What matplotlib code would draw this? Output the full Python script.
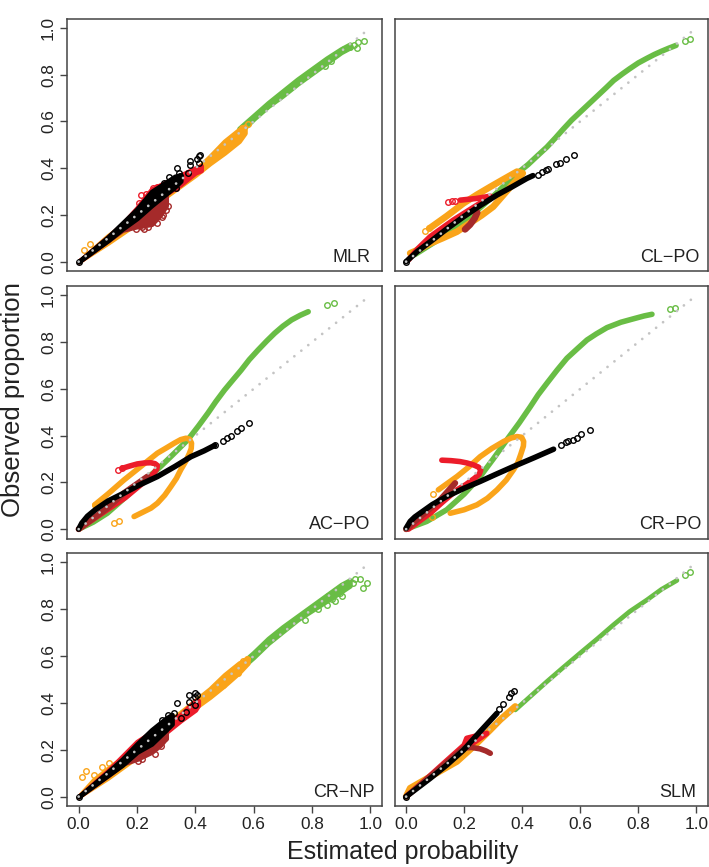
"""
Calibration panels: observed proportion vs estimated probability for six models.
Points read off the published figure by eye.
"""

import matplotlib

matplotlib.use("Agg")
import matplotlib.pyplot as plt

W, H = 709, 867

GREEN = "#69BD45"
ORANGE = "#FAA41A"
RED = "#EC1C2A"
BROWN = "#A52A2A"
BLACK = "#000000"
GREY = "#C4C4C4"
BOX = "#444444"
INK = "#222222"

TICKS = [0.0, 0.2, 0.4, 0.6, 0.8, 1.0]
TICK_LABELS = ["0.0", "0.2", "0.4", "0.6", "0.8", "1.0"]

# --- MLR: noisy bands (x, low, high) plus stray points
MLR_GREEN_BAND = ([0.55, 0.6, 0.65, 0.7, 0.75, 0.8, 0.85, 0.9, 0.93],
                  [0.55, 0.61, 0.665, 0.71, 0.76, 0.805, 0.85, 0.895, 0.915],
                  [0.57, 0.625, 0.68, 0.73, 0.78, 0.825, 0.87, 0.91, 0.93])
MLR_ORANGE_BAND = ([0.0, 0.1, 0.2, 0.3, 0.4, 0.45, 0.5, 0.55, 0.57],
                   [0.0, 0.08, 0.165, 0.28, 0.37, 0.42, 0.465, 0.515, 0.55],
                   [0.0, 0.11, 0.2, 0.31, 0.39, 0.45, 0.515, 0.565, 0.58])
MLR_RED_BAND = ([0.0, 0.1, 0.15, 0.2, 0.25, 0.3, 0.35, 0.4, 0.42],
                [0.0, 0.09, 0.14, 0.19, 0.24, 0.29, 0.33, 0.38, 0.39],
                [0.0, 0.105, 0.16, 0.23, 0.31, 0.34, 0.37, 0.4, 0.41])
MLR_BROWN_BAND = ([0.0, 0.1, 0.15, 0.2, 0.25, 0.28, 0.3],
                  [0.0, 0.09, 0.135, 0.15, 0.16, 0.2, 0.24],
                  [0.0, 0.1, 0.15, 0.19, 0.25, 0.27, 0.28])
MLR_BLACK_BAND = ([0.0, 0.1, 0.15, 0.2, 0.25, 0.3, 0.33, 0.35],
                  [0.0, 0.09, 0.14, 0.185, 0.24, 0.29, 0.32, 0.345],
                  [0.0, 0.105, 0.165, 0.225, 0.3, 0.34, 0.365, 0.37])
MLR_GREEN_PTS = [(0.98, 0.943), (0.957, 0.94), (0.955, 0.913), (0.93, 0.92), (0.91, 0.91),
                 (0.865, 0.86), (0.845, 0.835), (0.945, 0.925)]
MLR_ORANGE_PTS = [(0.017, 0.05), (0.04, 0.077), (0.55, 0.535), (0.58, 0.59), (0.56, 0.57),
                  (0.54, 0.52), (0.5, 0.49), (0.52, 0.5)]
MLR_RED_PTS = [(0.213, 0.285), (0.23, 0.29), (0.255, 0.313), (0.27, 0.32), (0.207, 0.25),
               (0.375, 0.378), (0.333, 0.313), (0.29, 0.315)]
MLR_BROWN_PTS = [(0.197, 0.14), (0.223, 0.138), (0.237, 0.147), (0.27, 0.164), (0.286, 0.19),
                 (0.305, 0.238), (0.299, 0.221), (0.218, 0.15), (0.25, 0.17), (0.29, 0.2)]
MLR_BLACK_PTS = [(0.0, 0.0), (0.414, 0.454), (0.417, 0.456), (0.405, 0.44), (0.382, 0.432),
                 (0.382, 0.413), (0.338, 0.4), (0.414, 0.42), (0.293, 0.335), (0.31, 0.363),
                 (0.345, 0.378), (0.374, 0.378), (0.333, 0.313), (0.325, 0.349), (0.348, 0.366)]

# --- CL-PO: smooth curves plus the sparse tail points
CLPO_GREEN = [(0.03, 0.03), (0.1, 0.085), (0.2, 0.17), (0.25, 0.225), (0.3, 0.28), (0.38, 0.375),
              (0.42, 0.415), (0.45, 0.45), (0.485, 0.49), (0.515, 0.53), (0.54, 0.565),
              (0.57, 0.605), (0.6, 0.64), (0.63, 0.675), (0.66, 0.71), (0.69, 0.745),
              (0.715, 0.775), (0.745, 0.803), (0.77, 0.825), (0.8, 0.85), (0.83, 0.87),
              (0.855, 0.886), (0.88, 0.9), (0.905, 0.913), (0.93, 0.925)]
CLPO_GREEN_PTS = [(0.962, 0.943), (0.977, 0.954)]
CLPO_ORANGE = [(0.08, 0.142), (0.14, 0.195), (0.198, 0.25), (0.245, 0.287), (0.29, 0.32),
               (0.335, 0.352), (0.382, 0.385), (0.402, 0.378), (0.37, 0.335), (0.335, 0.285),
               (0.3, 0.235), (0.26, 0.198), (0.22, 0.165), (0.175, 0.128), (0.125, 0.1),
               (0.083, 0.078), (0.04, 0.05), (0.014, 0.036)]
CLPO_ORANGE_PTS = [(0.066, 0.131), (0.08, 0.142)]
CLPO_RED = [(0.186, 0.263), (0.24, 0.27), (0.29, 0.28), (0.292, 0.27), (0.255, 0.25),
            (0.21, 0.215), (0.163, 0.178), (0.12, 0.14), (0.083, 0.107), (0.04, 0.055),
            (0.008, 0.007)]
CLPO_RED_PTS = [(0.144, 0.256), (0.157, 0.259), (0.169, 0.26)]
CLPO_BROWN = [(0.203, 0.138), (0.22, 0.158), (0.236, 0.185), (0.245, 0.21)]
CLPO_BLACK = [(0.0, 0.0), (0.04, 0.045), (0.083, 0.085), (0.14, 0.14), (0.198, 0.192),
              (0.255, 0.24), (0.313, 0.285), (0.365, 0.32), (0.416, 0.356), (0.437, 0.368)]
CLPO_BLACK_PTS = [(0.0, 0.0), (0.453, 0.372), (0.468, 0.382), (0.482, 0.39), (0.489, 0.395),
                  (0.516, 0.417), (0.531, 0.423), (0.552, 0.439), (0.577, 0.456)]

# --- AC-PO
ACPO_GREEN = [(0.0, 0.0), (0.05, 0.03), (0.098, 0.068), (0.15, 0.125), (0.213, 0.197),
              (0.27, 0.255), (0.32, 0.315), (0.374, 0.382), (0.41, 0.44), (0.443, 0.496),
              (0.47, 0.545), (0.5, 0.595), (0.53, 0.64), (0.557, 0.68), (0.585, 0.725),
              (0.615, 0.766), (0.645, 0.805), (0.672, 0.838), (0.7, 0.868), (0.73, 0.895),
              (0.76, 0.915), (0.787, 0.93)]
ACPO_GREEN_PTS = [(0.852, 0.96), (0.875, 0.966)]
ACPO_ORANGE = [(0.055, 0.104), (0.1, 0.15), (0.155, 0.21), (0.213, 0.268), (0.27, 0.325),
               (0.3, 0.347), (0.328, 0.368), (0.35, 0.383), (0.368, 0.389), (0.38, 0.385),
               (0.387, 0.368), (0.386, 0.345), (0.38, 0.325), (0.367, 0.29), (0.35, 0.254),
               (0.335, 0.217), (0.316, 0.182), (0.295, 0.145), (0.27, 0.111), (0.248, 0.09),
               (0.224, 0.075), (0.19, 0.054)]
ACPO_ORANGE_PTS = [(0.055, 0.104), (0.12, 0.028), (0.139, 0.034)]
ACPO_RED = [(0.149, 0.26), (0.175, 0.27), (0.201, 0.279), (0.225, 0.283), (0.247, 0.284),
            (0.262, 0.28), (0.27, 0.272), (0.268, 0.258), (0.258, 0.24), (0.24, 0.218),
            (0.213, 0.19), (0.16, 0.135), (0.098, 0.083), (0.0, 0.0)]
ACPO_RED_PTS = [(0.134, 0.254), (0.149, 0.26)]
ACPO_BROWN = [(0.0, 0.0), (0.098, 0.09), (0.155, 0.154), (0.236, 0.225)]
ACPO_BLACK = [(0.0, 0.0), (0.011, 0.026), (0.03, 0.055), (0.057, 0.083), (0.1, 0.12),
              (0.155, 0.154), (0.21, 0.19), (0.27, 0.225), (0.33, 0.268), (0.385, 0.31),
              (0.43, 0.335), (0.466, 0.358)]
ACPO_BLACK_PTS = [(0.468, 0.36), (0.494, 0.377), (0.507, 0.388), (0.522, 0.4), (0.542, 0.42),
                  (0.557, 0.432), (0.585, 0.452)]

# --- CR-PO
CRPO_GREEN = [(0.0, 0.0), (0.071, 0.033), (0.14, 0.083), (0.2, 0.15), (0.255, 0.225), (0.3, 0.3),
              (0.347, 0.382), (0.39, 0.455), (0.428, 0.524), (0.455, 0.575), (0.485, 0.624),
              (0.52, 0.68), (0.554, 0.731), (0.59, 0.772), (0.623, 0.809), (0.655, 0.835),
              (0.692, 0.862), (0.74, 0.885), (0.784, 0.9), (0.82, 0.912), (0.847, 0.919)]
CRPO_GREEN_PTS = [(0.91, 0.942), (0.928, 0.947)]
CRPO_ORANGE = [(0.111, 0.168), (0.175, 0.225), (0.215, 0.265), (0.255, 0.31), (0.295, 0.345),
               (0.336, 0.375), (0.362, 0.39), (0.382, 0.396), (0.398, 0.393), (0.405, 0.375),
               (0.404, 0.355), (0.395, 0.32), (0.385, 0.285), (0.37, 0.254), (0.345, 0.21),
               (0.313, 0.168), (0.28, 0.132), (0.244, 0.104), (0.2, 0.083), (0.152, 0.068)]
CRPO_ORANGE_PTS = [(0.094, 0.15), (0.088, 0.05)]
CRPO_RED = [(0.123, 0.295), (0.155, 0.293), (0.186, 0.289), (0.21, 0.283), (0.232, 0.275),
            (0.25, 0.265), (0.257, 0.252), (0.252, 0.235), (0.235, 0.217), (0.205, 0.19),
            (0.175, 0.168), (0.125, 0.115), (0.083, 0.068), (0.008, 0.0)]
CRPO_BROWN = [(0.0, 0.0), (0.117, 0.125), (0.169, 0.197)]
CRPO_BLACK = [(0.0, 0.004), (0.014, 0.033), (0.03, 0.052), (0.048, 0.068), (0.09, 0.105),
              (0.14, 0.14), (0.2, 0.175), (0.255, 0.204), (0.31, 0.235), (0.37, 0.268),
              (0.44, 0.305), (0.508, 0.342)]
CRPO_BLACK_PTS = [(0.533, 0.358), (0.552, 0.372), (0.556, 0.377), (0.575, 0.383), (0.588, 0.392),
                  (0.603, 0.405), (0.632, 0.423)]

# --- CR-NP
CRNP_GREEN_BAND = ([0.55, 0.6, 0.65, 0.7, 0.75, 0.8, 0.85, 0.9, 0.93],
                   [0.54, 0.595, 0.655, 0.705, 0.755, 0.795, 0.835, 0.875, 0.9],
                   [0.56, 0.615, 0.675, 0.725, 0.77, 0.815, 0.86, 0.905, 0.925])
CRNP_ORANGE_BAND = ([0.0, 0.05, 0.1, 0.2, 0.3, 0.4, 0.45, 0.5, 0.55, 0.58],
                    [0.0, 0.04, 0.08, 0.17, 0.28, 0.38, 0.425, 0.475, 0.53, 0.57],
                    [0.0, 0.07, 0.12, 0.21, 0.31, 0.41, 0.46, 0.52, 0.57, 0.59])
CRNP_RED_BAND = ([0.0, 0.1, 0.2, 0.3, 0.35, 0.4, 0.41],
                 [0.0, 0.09, 0.185, 0.275, 0.325, 0.37, 0.39],
                 [0.0, 0.11, 0.235, 0.315, 0.35, 0.41, 0.41])
CRNP_BROWN_BAND = ([0.1, 0.15, 0.2, 0.25, 0.28, 0.3],
                   [0.095, 0.14, 0.16, 0.19, 0.22, 0.25],
                   [0.105, 0.16, 0.21, 0.27, 0.29, 0.3])
CRNP_BLACK_BAND = ([0.0, 0.1, 0.15, 0.2, 0.25, 0.3, 0.32],
                   [0.0, 0.09, 0.135, 0.19, 0.225, 0.285, 0.31],
                   [0.0, 0.105, 0.16, 0.225, 0.285, 0.335, 0.35])
CRNP_GREEN_PTS = [(0.989, 0.912), (0.974, 0.889), (0.966, 0.93), (0.948, 0.929), (0.902, 0.855),
                  (0.776, 0.755), (0.908, 0.9), (0.856, 0.855), (0.851, 0.819), (0.879, 0.833),
                  (0.925, 0.905), (0.885, 0.87), (0.82, 0.8), (0.895, 0.87), (0.94, 0.91),
                  (0.87, 0.845)]
CRNP_ORANGE_PTS = [(0.011, 0.085), (0.026, 0.108), (0.052, 0.091), (0.08, 0.128), (0.103, 0.142),
                   (0.577, 0.587), (0.563, 0.577), (0.546, 0.527), (0.494, 0.477)]
CRNP_BROWN_PTS = [(0.205, 0.15), (0.218, 0.16), (0.261, 0.181), (0.282, 0.214), (0.297, 0.249),
                  (0.241, 0.199)]
CRNP_BLACK_PTS = [(0.0, 0.0), (0.336, 0.4), (0.379, 0.432), (0.4, 0.442), (0.399, 0.427),
                  (0.405, 0.434), (0.4, 0.392), (0.379, 0.406), (0.351, 0.335), (0.368, 0.36),
                  (0.305, 0.349), (0.328, 0.356), (0.287, 0.328)]

# --- SLM
SLM_GREEN = [(0.376, 0.37), (0.43, 0.43), (0.485, 0.491), (0.54, 0.55), (0.6, 0.613),
             (0.66, 0.675), (0.715, 0.734), (0.77, 0.79), (0.83, 0.84), (0.88, 0.885),
             (0.933, 0.923)]
SLM_GREEN_PTS = [(0.962, 0.947), (0.977, 0.957)]
SLM_ORANGE = [(0.0, 0.0), (0.014, 0.036), (0.083, 0.085), (0.175, 0.15), (0.232, 0.214),
              (0.29, 0.285), (0.324, 0.328), (0.376, 0.385)]
SLM_RED = [(0.0, 0.0), (0.06, 0.064), (0.117, 0.128), (0.2, 0.22), (0.209, 0.249), (0.278, 0.27),
           (0.232, 0.23)]
SLM_BROWN = [(0.0, 0.0), (0.1, 0.105), (0.198, 0.207), (0.225, 0.21), (0.255, 0.204),
             (0.275, 0.195), (0.29, 0.185)]
SLM_BLACK = [(0.0, 0.0), (0.083, 0.078), (0.14, 0.135), (0.198, 0.199), (0.255, 0.278),
             (0.313, 0.356)]
SLM_BLACK_PTS = [(0.0, 0.0), (0.32, 0.375), (0.333, 0.395), (0.353, 0.427), (0.362, 0.442),
                 (0.372, 0.453)]


def px_axes(fig, left, right, top, bottom):
    """Axes from pixel edges measured from the top-left of the image."""
    return fig.add_axes([left / W, 1 - bottom / H, (right - left) / W, (bottom - top) / H])


def draw_band(ax, band, color, z):
    x, lo, hi = band
    ax.fill_between(x, lo, hi, color=color, lw=3.4, joinstyle="round", zorder=z)


def draw_curve(ax, pts, color, z, lw=4.0):
    ax.plot([p[0] for p in pts], [p[1] for p in pts], color=color, lw=lw,
            solid_capstyle="round", solid_joinstyle="round", zorder=z)


def draw_pts(ax, pts, color, z):
    ax.plot([p[0] for p in pts], [p[1] for p in pts], ls="none", marker="o", ms=4.0,
            mfc="none", mec=color, mew=1.0, zorder=z)


def style_axes(ax, label, label_x, left_col, bottom_row):
    ax.set_xlim(-0.04, 1.04)
    ax.set_ylim(-0.04, 1.04)
    for spine in ax.spines.values():
        spine.set_color(BOX)
        spine.set_linewidth(1.1)
    ax.set_xticks(TICKS if bottom_row else [])
    ax.set_yticks(TICKS if left_col else [])
    if bottom_row:
        ax.set_xticklabels(TICK_LABELS, fontsize=12.4, color=INK)
    if left_col:
        ax.set_yticklabels(TICK_LABELS, fontsize=12.4, color=INK, rotation=90, va="center")
    ax.tick_params(length=5, width=1.0, color=BOX, pad=3)
    # reference line sits on top of all the points
    ax.plot([0, 1], [0, 1], color=GREY, lw=2.0, ls=(0, (0.01, 3.2)), dash_capstyle="round", zorder=10)
    ax.text(label_x, 0.0, label, fontsize=13, color=INK, ha="right", va="baseline", zorder=11)


def main():
    plt.rcParams["font.family"] = ["Liberation Sans", "DejaVu Sans"]
    fig = plt.figure(figsize=(W / 100, H / 100), dpi=100)

    ax_mlr = px_axes(fig, 67, 382, 18.5, 271)
    ax_clpo = px_axes(fig, 394.5, 708, 18.5, 271)
    ax_acpo = px_axes(fig, 67, 382, 286, 538.5)
    ax_crpo = px_axes(fig, 394.5, 708, 286, 538.5)
    ax_crnp = px_axes(fig, 67, 382, 553, 806)
    ax_slm = px_axes(fig, 394.5, 708, 553, 806)

    # MLR
    draw_band(ax_mlr, MLR_GREEN_BAND, GREEN, 1)
    draw_pts(ax_mlr, MLR_GREEN_PTS, GREEN, 1)
    draw_band(ax_mlr, MLR_ORANGE_BAND, ORANGE, 2)
    draw_pts(ax_mlr, MLR_ORANGE_PTS, ORANGE, 2)
    draw_band(ax_mlr, MLR_RED_BAND, RED, 3)
    draw_pts(ax_mlr, MLR_RED_PTS, RED, 3)
    draw_band(ax_mlr, MLR_BROWN_BAND, BROWN, 4)
    draw_pts(ax_mlr, MLR_BROWN_PTS, BROWN, 4)
    draw_band(ax_mlr, MLR_BLACK_BAND, BLACK, 5)
    draw_pts(ax_mlr, MLR_BLACK_PTS, BLACK, 5)
    style_axes(ax_mlr, "MLR", 1.0, True, False)

    # CL-PO
    draw_curve(ax_clpo, CLPO_GREEN, GREEN, 1)
    draw_pts(ax_clpo, CLPO_GREEN_PTS, GREEN, 1)
    draw_curve(ax_clpo, CLPO_ORANGE, ORANGE, 2, lw=4.8)
    draw_pts(ax_clpo, CLPO_ORANGE_PTS, ORANGE, 2)
    draw_curve(ax_clpo, CLPO_RED, RED, 3)
    draw_pts(ax_clpo, CLPO_RED_PTS, RED, 3)
    draw_curve(ax_clpo, CLPO_BROWN, BROWN, 4, lw=4.8)
    draw_curve(ax_clpo, CLPO_BLACK, BLACK, 5)
    draw_pts(ax_clpo, CLPO_BLACK_PTS, BLACK, 5)
    style_axes(ax_clpo, "CL\u2212PO", 1.011, False, False)

    # AC-PO
    draw_curve(ax_acpo, ACPO_GREEN, GREEN, 1)
    draw_pts(ax_acpo, ACPO_GREEN_PTS, GREEN, 1)
    draw_curve(ax_acpo, ACPO_ORANGE, ORANGE, 2)
    draw_pts(ax_acpo, ACPO_ORANGE_PTS, ORANGE, 2)
    draw_curve(ax_acpo, ACPO_RED, RED, 3)
    draw_pts(ax_acpo, ACPO_RED_PTS, RED, 3)
    draw_curve(ax_acpo, ACPO_BROWN, BROWN, 4, lw=4.4)
    draw_curve(ax_acpo, ACPO_BLACK, BLACK, 5)
    draw_pts(ax_acpo, ACPO_BLACK_PTS, BLACK, 5)
    style_axes(ax_acpo, "AC\u2212PO", 1.0, True, False)

    # CR-PO
    draw_curve(ax_crpo, CRPO_GREEN, GREEN, 1)
    draw_pts(ax_crpo, CRPO_GREEN_PTS, GREEN, 1)
    draw_curve(ax_crpo, CRPO_ORANGE, ORANGE, 2)
    draw_pts(ax_crpo, CRPO_ORANGE_PTS, ORANGE, 2)
    draw_curve(ax_crpo, CRPO_RED, RED, 3)
    draw_curve(ax_crpo, CRPO_BROWN, BROWN, 4, lw=4.4)
    draw_curve(ax_crpo, CRPO_BLACK, BLACK, 5)
    draw_pts(ax_crpo, CRPO_BLACK_PTS, BLACK, 5)
    style_axes(ax_crpo, "CR\u2212PO", 1.019, False, False)

    # CR-NP
    draw_band(ax_crnp, CRNP_GREEN_BAND, GREEN, 1)
    draw_pts(ax_crnp, CRNP_GREEN_PTS, GREEN, 1)
    draw_band(ax_crnp, CRNP_ORANGE_BAND, ORANGE, 2)
    draw_pts(ax_crnp, CRNP_ORANGE_PTS, ORANGE, 2)
    draw_band(ax_crnp, CRNP_RED_BAND, RED, 3)
    draw_band(ax_crnp, CRNP_BROWN_BAND, BROWN, 4)
    draw_pts(ax_crnp, CRNP_BROWN_PTS, BROWN, 4)
    draw_band(ax_crnp, CRNP_BLACK_BAND, BLACK, 5)
    draw_pts(ax_crnp, CRNP_BLACK_PTS, BLACK, 5)
    style_axes(ax_crnp, "CR\u2212NP", 1.015, True, True)

    # SLM
    draw_curve(ax_slm, SLM_GREEN, GREEN, 1, lw=3.4)
    draw_pts(ax_slm, SLM_GREEN_PTS, GREEN, 1)
    draw_curve(ax_slm, SLM_ORANGE, ORANGE, 2, lw=4.8)
    draw_curve(ax_slm, SLM_RED, RED, 3)
    draw_curve(ax_slm, SLM_BROWN, BROWN, 4)
    draw_curve(ax_slm, SLM_BLACK, BLACK, 5)
    draw_pts(ax_slm, SLM_BLACK_PTS, BLACK, 5)
    style_axes(ax_slm, "SLM", 1.0, False, True)

    fig.text(403 / W, 1 - 852 / H, "Estimated probability", fontsize=18, color=INK,
             ha="center", va="center")
    fig.text(13 / W, 1 - 400 / H, "Observed proportion", fontsize=18.5, color=INK,
             rotation=90, ha="center", va="center")

    fig.savefig("out.png", dpi=100)
    plt.close(fig)


if __name__ == "__main__":
    main()
